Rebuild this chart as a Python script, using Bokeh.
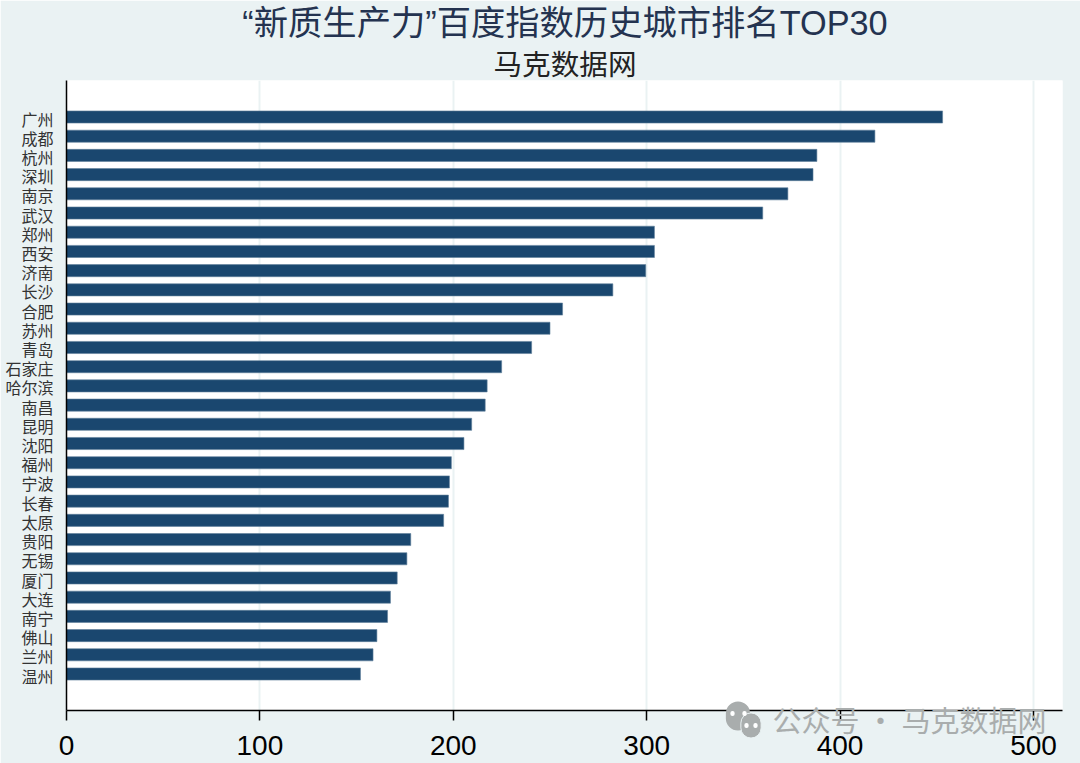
from bokeh.plotting import figure
from bokeh.embed import file_html
from bokeh.resources import INLINE
from bokeh.models import Range1d, FixedTicker, Label, ColumnDataSource
from bokeh.transform import dodge

cities = ["广州","成都","杭州","深圳","南京","武汉","郑州","西安","济南","长沙",
          "合肥","苏州","青岛","石家庄","哈尔滨","南昌","昆明","沈阳","福州","宁波",
          "长春","太原","贵阳","无锡","厦门","大连","南宁","佛山","兰州","温州"]
values = [453,418,388,386,373,360,304,304,299.5,282.5,
          256.5,250,240.5,225,217.5,216.5,209.5,205.5,199,198,
          197.5,195,178,176,171,167.5,166,160.5,158.5,152]
x_ticks = [0,100,200,300,400,500]
title_text = "“新质生产力”百度指数历史城市排名TOP30"
subtitle_text = "马克数据网"
watermark_text = "公众号 · 马克数据网"

BG = "#eaf2f3"
NAVY = "#1a476f"
FONT = "'Liberation Sans', 'Noto Sans CJK SC'"
CJK = "'Noto Sans CJK SC'"

ranks = list(range(1, len(cities)+1))
src = ColumnDataSource(dict(rank=ranks, value=values))

p = figure(frame_width=996, frame_height=630, output_backend="svg", toolbar_location=None,
           x_range=Range1d(0, 515), y_range=Range1d(31.82, -0.98),
           min_border_left=66, min_border_right=18, min_border_top=80, min_border_bottom=53,
           background_fill_color="white", border_fill_color=BG, outline_line_color=None)

p.hbar(y=dodge("rank", -0.08), right="value", left=0, height=0.63, source=src,
       fill_color=NAVY, line_color="#5f7f9b", line_width=0.6)

p.ygrid.visible = False
p.xgrid.ticker = FixedTicker(ticks=x_ticks)
p.xgrid.grid_line_color = BG
p.xgrid.grid_line_width = 2

xa = p.xaxis[0]
xa.ticker = FixedTicker(ticks=x_ticks)
xa.major_tick_in = 0
xa.major_tick_out = 10
xa.major_tick_line_color = "black"
xa.major_tick_line_width = 1.5
xa.minor_tick_line_color = None
xa.axis_line_color = "black"
xa.axis_line_width = 1.5
xa.major_label_text_font = FONT
xa.major_label_text_font_size = "28px"
xa.major_label_text_color = "black"
xa.major_label_standoff = 15

ya = p.yaxis[0]
ya.ticker = FixedTicker(ticks=ranks)
ya.major_label_overrides = {r: c for r, c in zip(ranks, cities)}
ya.major_tick_in = 0
ya.major_tick_out = 0
ya.major_tick_line_color = None
ya.minor_tick_line_color = None
ya.axis_line_color = "black"
ya.axis_line_width = 1.5
ya.major_label_text_font = CJK
ya.major_label_text_font_size = "16px"
ya.major_label_text_color = "#333333"
ya.major_label_standoff = 13

p.add_layout(Label(x=564.5, y=22.5, x_units="canvas", y_units="canvas", text=title_text, text_font=FONT,
                   text_font_size="34.3px", text_color="#243350", text_align="center", text_baseline="middle"), "above")
p.add_layout(Label(x=564.5, y=62, x_units="canvas", y_units="canvas", text=subtitle_text, text_font=CJK,
                   text_font_size="28.6px", text_color="#222222", text_align="center", text_baseline="middle"), "above")

# WeChat-style watermark: rounded label backgrounds form the icon
wm_grey = "#a9adad"
def bubble(cx, cy, pad_v, pad_h, color, edge=None):
    p.add_layout(Label(x=cx, y=cy, x_units="canvas", y_units="canvas", text="\u00a0", text_font_size="1px",
                       text_align="center", text_baseline="middle", padding=(pad_v, pad_h),
                       border_radius=max(pad_v, pad_h), background_fill_color=color, border_line_color=edge), "below")
bubble(737.5, 715.5, 12, 14, wm_grey)
bubble(750.5, 725, 10, 12, wm_grey, edge=BG)
for ex, ey in [(732, 713), (744, 713), (746, 725), (755, 725)]:
    bubble(ex, ey, 2, 2, "white")
p.add_layout(Label(x=772, y=718.5, x_units="canvas", y_units="canvas", text=watermark_text, text_font=CJK,
                   text_font_size="29px", text_color=wm_grey, text_baseline="middle", level="guide"), "below")

html = file_html(p, INLINE).replace("<body>", '<body style="margin:0;overflow:hidden">')
open("out.html", "w").write(html)
